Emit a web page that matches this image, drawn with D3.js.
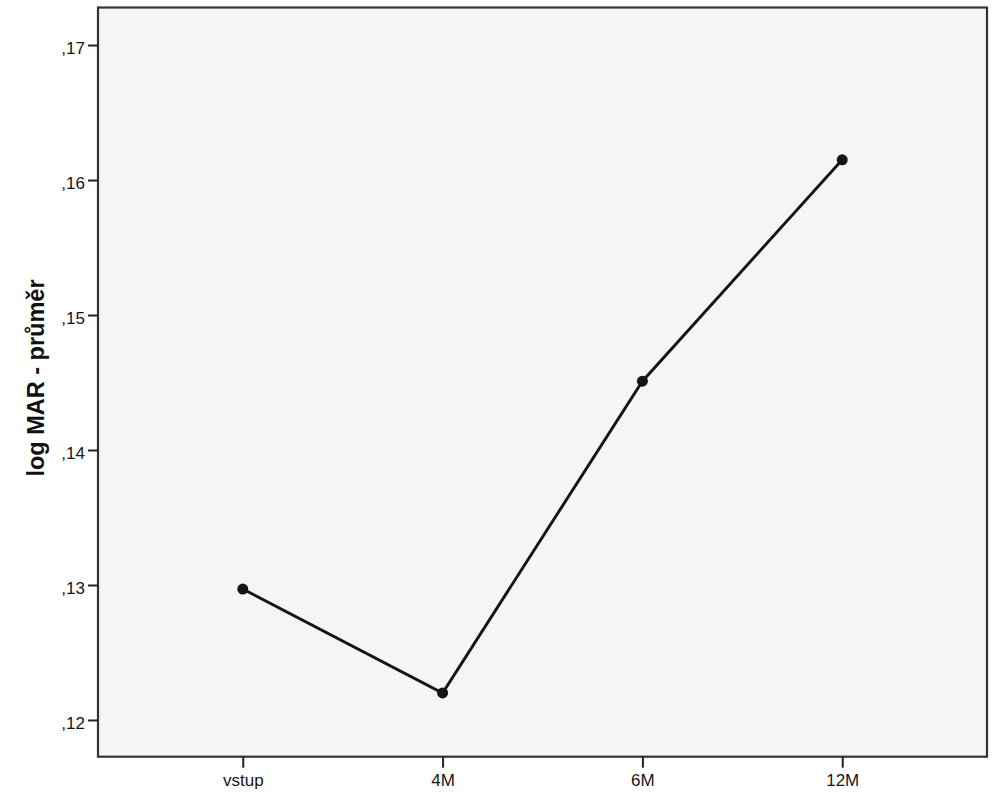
<!DOCTYPE html>
<html>
<head>
    <meta charset="utf-8">
    <style>
        body{
            margin: 0;
            background-color: white;
        }

        .axis text {
            font-family: "Liberation Sans", Arial, sans-serif;
            font-size: 17px;
            fill: #161616;
        }
        .axis path {
            display: none;
        }
        .axis .tick line {
            stroke: #222;
            stroke-width: 2px;
        }

        .plotArea path{
            fill: none;
            stroke-width: 2.9px;
            stroke: #141414;
        }
    </style>
</head>
<body>
    <svg class="vis"></svg>

    <script src="https://cdnjs.cloudflare.com/ajax/libs/d3/7.8.5/d3.min.js"></script>

    <script>

        var width = 998;
        var height = 800;

        // data
        var categories = ["vstup", "4M", "6M", "12M"];
        var values = [0.1297, 0.1220, 0.1451, 0.1615];
        var yTicks = [0.12, 0.13, 0.14, 0.15, 0.16, 0.17];
        var yDomain = [0.11728, 0.17278];
        var yLabel = "log MAR - průměr";

        var box = {left: 98, right: 987, top: 7.5, bottom: 756.7};

        var vis = d3.select("svg.vis")
                 .attr("width", width)
                 .attr("height", height);

        var x = d3.scalePoint()
            .domain(categories)
            .range([box.left, box.right])
            .padding(0.7245);

        var y = d3.scaleLinear()
            .domain(yDomain)
            .range([box.bottom, box.top]);

        // plot background + frame
        vis.append("rect")
            .attr("x", box.left)
            .attr("y", box.top)
            .attr("width", box.right - box.left)
            .attr("height", box.bottom - box.top)
            .attr("fill", "#f5f5f5")
            .attr("stroke", "#333")
            .attr("stroke-width", 2.2);

        function fmt(v){
            // SPSS-like ",17"
            return d3.format(".2f")(v).replace("0.", ",");
        }

        vis.append("g")
            .attr("class", "axis y-axis")
            .attr("transform", `translate(${box.left},0)`)
            .call(d3.axisLeft(y).tickValues(yTicks).tickFormat(fmt).tickSize(10).tickPadding(3))
            .selectAll("text")
            .attr("dy", "0.5em");

        vis.append("g")
            .attr("class", "axis x-axis")
            .attr("transform", `translate(0,${box.bottom})`)
            .call(d3.axisBottom(x).tickSize(11).tickPadding(6));

        vis.append("text")
            .attr("transform", `translate(44,378) rotate(-90)`)
            .attr("text-anchor", "middle")
            .attr("font-family", "\"Liberation Sans\", Arial, sans-serif")
            .attr("font-weight", "bold")
            .attr("font-size", "23.5px")
            .attr("fill", "#111")
            .text(yLabel);

        var pts = categories.map((c, i) => [c, values[i]]);

        var line = d3.line()
            .x(d => x(d[0]))
            .y(d => y(d[1]));

        var plot = vis.append("g").attr("class", "plotArea");

        plot.append("path")
            .attr("d", line(pts));

        plot.selectAll("circle")
            .data(pts)
            .enter()
            .append("circle")
            .attr("cx", d => x(d[0]))
            .attr("cy", d => y(d[1]))
            .attr("r", 5.5)
            .attr("fill", "#141414");

    </script>
</body>
</html>
